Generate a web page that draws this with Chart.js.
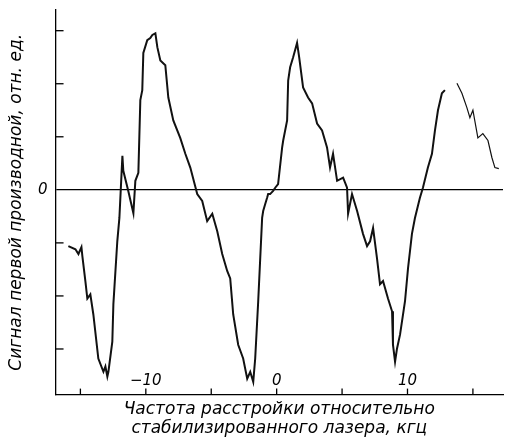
<!DOCTYPE html>
<html>
<head>
<meta charset="utf-8">
<script src="https://cdn.jsdelivr.net/npm/chart.js@4"></script>
<style>
  html, body { margin: 0; padding: 0; background: #fff; }
  #wrap { width: 506px; height: 438px; }
</style>
</head>
<body>
<div id="wrap"><canvas id="chart"></canvas></div>
<script>
// detuning frequency, kHz
const freq = [
  -15.92, -15.38, -15.15, -14.92, -14.85, -14.62, -14.47, -14.24, -14.01, -13.63,
  -13.24, -13.09, -12.94, -12.86, -12.56, -12.48, -12.18, -12.02, -11.79, -11.72,
  -11.34, -10.95, -10.80, -10.57, -10.42, -10.27, -10.19, -9.89, -9.66, -9.50,
  -9.27, -9.12, -8.89, -8.51, -8.28, -7.90, -7.37, -6.98, -6.60, -6.07,
  -5.69, -5.31, -4.92, -4.54, -4.16, -3.78, -3.55, -3.32, -2.94, -2.56,
  -2.25, -2.02, -1.79, -1.64, -1.41, -1.11, -1.03, -0.88, -0.73, -0.65,
  -0.50, -0.27, -0.11, 0.11, 0.42, 0.50, 0.80, 0.88, 1.03, 1.26,
  1.56, 1.72, 2.02, 2.40, 2.71, 3.09, 3.47, 3.85, 4.08, 4.31,
  4.62, 5.08, 5.38, 5.46, 5.76, 6.15, 6.60, 6.91, 7.14, 7.37,
  7.67, 7.90, 8.13, 8.51, 8.82, 8.89, 9.05, 9.20, 9.43, 9.81,
  10.04, 10.34, 10.57, 10.95, 11.18, 11.56, 11.87, 12.10, 12.33, 12.63,
  12.86, 13.30, 13.78, 14.16, 14.54, 14.77, 15.00, 15.38, 15.76, 16.15,
  16.45, 16.68, 16.98
];

// first-derivative signal, rel. units (null = break in the trace)
const signal = [
  -1.06, -1.12, -1.21, -1.08, -1.25, -1.72, -2.05, -1.97, -2.35, -3.18,
  -3.43, -3.33, -3.52, -3.43, -2.86, -2.16, -0.97, -0.53, 0.64, 0.36,
  -0.02, -0.44, 0.17, 0.32, 1.69, 1.88, 2.58, 2.82, 2.86, 2.92,
  2.95, 2.69, 2.44, 2.35, 1.74, 1.31, 0.98, 0.68, 0.42, -0.08,
  -0.21, -0.59, -0.45, -0.78, -1.21, -1.53, -1.67, -2.35, -2.92, -3.18,
  -3.56, -3.43, -3.62, -3.18, -2.10, -0.53, -0.40, -0.27, -0.15, -0.08,
  -0.08, -0.02, 0.04, 0.11, 0.80, 0.93, 1.31, 2.06, 2.31, 2.50,
  2.77, 2.50, 1.93, 1.74, 1.63, 1.25, 1.12, 0.80, 0.42, 0.68,
  0.17, 0.23, 0.04, -0.45, -0.08, -0.40, -0.83, -1.06, -0.97, -0.72,
  -1.29, -1.78, -1.72, -2.05, -2.29, -2.92, -3.24, -2.99, -2.73, -2.10,
  -1.48, -0.83, -0.53, -0.15, 0.04, 0.42, 0.68, 1.12, 1.50, 1.82,
  1.88, null, 2.01, 1.82, 1.55, 1.36, 1.50, 0.98, 1.06, 0.93,
  0.61, 0.42, 0.40
];

const xTicks = [-15, -10, -5, 0, 5, 10, 15];
const xLabels = { '-10': '\u221210', '0': '0', '10': '10' };
const yTicks = [-3, -2, -1, 1, 2, 3];

const xTitle = ['Частота расстройки относительно', 'стабилизированного лазера, кгц'];
const yTitle = 'Сигнал первой производной, отн. ед.';

const fontFamily = '"DejaVu Sans", sans-serif';

// inward tick marks and the x tick numbers sitting above the axis
const inwardTicks = {
  id: 'inwardTicks',
  afterDraw(chart) {
    const ctx = chart.ctx;
    const xs = chart.scales.x;
    const ys = chart.scales.y;
    const area = chart.chartArea;
    ctx.save();
    ctx.strokeStyle = '#000';
    ctx.lineWidth = 1.3;
    xTicks.forEach(v => {
      const px = xs.getPixelForValue(v);
      ctx.beginPath();
      ctx.moveTo(px, area.bottom);
      ctx.lineTo(px, area.bottom - 6);
      ctx.stroke();
    });
    yTicks.forEach(v => {
      const py = ys.getPixelForValue(v);
      ctx.beginPath();
      ctx.moveTo(area.left, py);
      ctx.lineTo(area.left + 8, py);
      ctx.stroke();
    });
    ctx.fillStyle = '#000';
    ctx.font = 'italic 15px ' + fontFamily;
    ctx.textAlign = 'center';
    ctx.textBaseline = 'alphabetic';
    Object.keys(xLabels).forEach(k => {
      const px = xs.getPixelForValue(Number(k));
      ctx.fillText(xLabels[k], px, area.bottom - 10);
    });
    ctx.restore();
  }
};

const ctx = document.getElementById('chart');
new Chart(ctx, {
  type: 'line',
  plugins: [inwardTicks],
  data: {
    labels: freq,
    datasets: [{
      data: freq.map((f, i) => ({ x: f, y: signal[i] })),
      borderColor: '#111',
      borderWidth: 2,
      pointRadius: 0,
      tension: 0,
      spanGaps: false,
      segment: {
        borderWidth: c => (c.p0.parsed.x > 13 ? 1.2 : 2)
      }
    }]
  },
  options: {
    responsive: true,
    maintainAspectRatio: false,
    animation: false,
    layout: { padding: { top: 10, right: 3, left: 4, bottom: 0 } },
    plugins: {
      legend: { display: false },
      tooltip: { enabled: false }
    },
    scales: {
      x: {
        type: 'linear',
        min: -16.9,
        max: 17.3,
        grid: { display: false, drawTicks: false },
        border: { display: true, color: '#000', width: 1.3 },
        ticks: { display: false },
        title: {
          display: true,
          text: xTitle,
          color: '#000',
          font: { family: fontFamily, style: 'italic', size: 17, lineHeight: 1.1 },
          padding: { top: 6, bottom: 0 }
        }
      },
      y: {
        min: -3.86,
        max: 3.39,
        afterBuildTicks: scale => {
          scale.ticks = [{ value: 0 }];
        },
        grid: {
          drawTicks: false,
          color: '#000',
          lineWidth: 1.3
        },
        border: { display: true, color: '#000', width: 1.3 },
        ticks: {
          color: '#000',
          padding: 8,
          font: { family: fontFamily, style: 'italic', size: 15, lineHeight: 0.2 },
          callback: v => (v === 0 ? '0' : '')
        },
        title: {
          display: true,
          text: yTitle,
          color: '#000',
          font: { family: fontFamily, style: 'italic', size: 17 },
          padding: { top: 2, bottom: 3.6 }
        }
      }
    }
  }
});
</script>
</body>
</html>
